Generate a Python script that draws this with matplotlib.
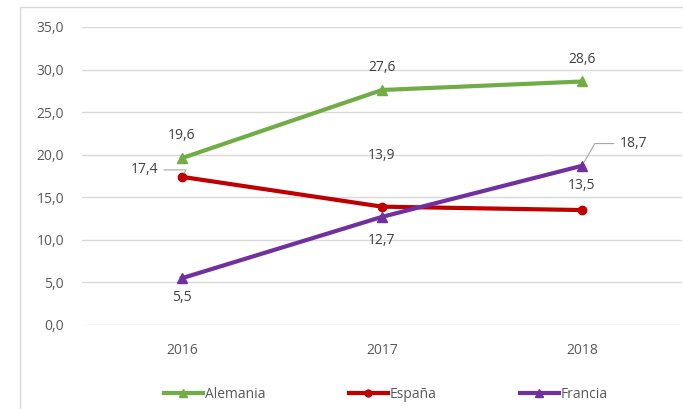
import matplotlib
matplotlib.use("Agg")
import matplotlib.pyplot as plt
from matplotlib.patches import Rectangle
from matplotlib.lines import Line2D

years = ["2016", "2017", "2018"]
alemania = [19.6, 27.6, 28.6]
espana = [17.4, 13.9, 13.5]
francia = [5.5, 12.7, 18.7]
yticks = [0, 5, 10, 15, 20, 25, 30, 35]

plt.rcParams['font.family'] = ['Open Sans', 'DejaVu Sans']
W, H = 683, 409
fig = plt.figure(figsize=(W/100, H/100), dpi=100)
ax = fig.add_axes([82/W, 1-325/H, 600/W, 298/H])

x = list(range(len(years)))
c_ale, c_esp, c_fra = "#70AD47", "#C00000", "#7030A0"
ax.plot(x, alemania, color=c_ale, lw=3, marker="^", ms=7, zorder=3)
ax.plot(x, espana, color=c_esp, lw=3, marker="o", ms=6, zorder=3)
ax.plot(x, francia, color=c_fra, lw=3, marker="^", ms=7, zorder=3)

ax.set_xlim(-0.5, 2.5)
ax.set_ylim(0, 35)
ax.set_yticks(yticks)
ax.set_yticklabels([f"{v:.1f}".replace(".", ",") for v in yticks])
ax.set_xticks(x)
ax.set_xticklabels(years)
ax.grid(axis="y", color="#D9D9D9", lw=1)
ax.set_axisbelow(True)
for s in ax.spines.values():
    s.set_visible(False)
ax.tick_params(length=0, colors="#595959", labelsize=10)
ax.tick_params(axis="y", pad=13)
ax.tick_params(axis="x", pad=13)

fs = 10
fmt = lambda v: f"{v:.1f}".replace(".", ",")
tc = "#404040"
for i, v in enumerate(alemania):
    ax.annotate(fmt(v), (i, v), xytext=(0, 16), textcoords="offset points",
                ha="center", va="center", fontsize=fs, color=tc)
# España
ax.annotate(fmt(espana[0]), (0, espana[0]), xytext=(-17, 5), textcoords="offset points",
            ha="right", va="center", fontsize=fs, color=tc,
            arrowprops=dict(arrowstyle="-", color="#A6A6A6", lw=0.8,
                            connectionstyle="angle,angleA=0,angleB=60,rad=0", shrinkA=2, shrinkB=3))
for i in [1, 2]:
    ax.annotate(fmt(espana[i]), (i, espana[i]), xytext=(0, 37 if i == 1 else 18), textcoords="offset points",
                ha="center", va="center", fontsize=fs, color=tc)
# Francia
for i in [0, 1]:
    ax.annotate(fmt(francia[i]), (i, francia[i]), xytext=(0, -14 if i == 0 else -17), textcoords="offset points",
                ha="center", va="center", fontsize=fs, color=tc)
ax.annotate(fmt(francia[2]), (2, francia[2]), xytext=(27, 16), textcoords="offset points",
            ha="left", va="center", fontsize=fs, color=tc,
            arrowprops=dict(arrowstyle="-", color="#A6A6A6", lw=0.8,
                            connectionstyle="angle,angleA=0,angleB=60,rad=0", shrinkA=2, shrinkB=3))

# border
fig.patches.append(Rectangle((20/W, -0.1), 1.2, 1 - 7/H + 0.1, transform=fig.transFigure,
                             fill=False, edgecolor="#D9D9D9", lw=1))

handles = [Line2D([], [], color=c_ale, lw=3, marker="^", ms=6),
           Line2D([], [], color=c_esp, lw=3, marker="o", ms=5),
           Line2D([], [], color=c_fra, lw=3, marker="^", ms=6)]
leg = fig.legend(handles, ["Alemania", "España", "Francia"], loc="center",
                 bbox_to_anchor=(386/W, 1-394/H), ncol=3, frameon=False,
                 fontsize=fs, handlelength=2.8, handletextpad=0.15, columnspacing=6.0)
for t in leg.get_texts():
    t.set_color("#595959")

fig.savefig("out.png", dpi=100)
